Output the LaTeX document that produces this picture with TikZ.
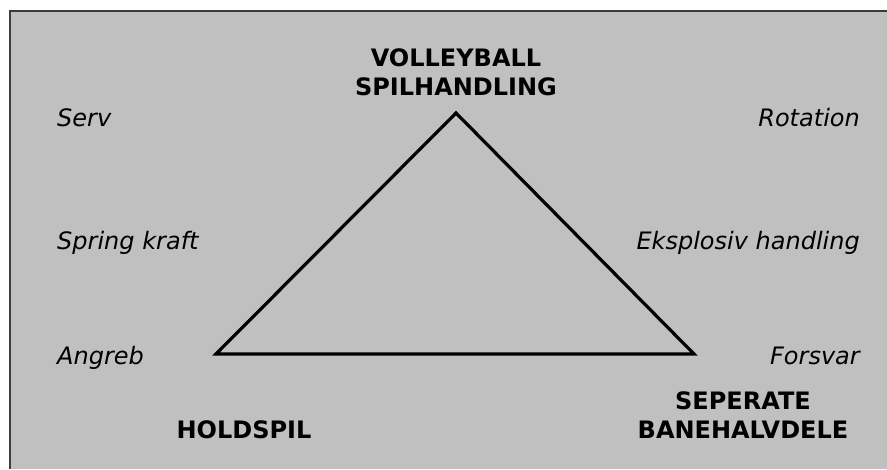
\documentclass[tikz,border=0pt]{standalone}
\usepackage{fontspec}
\setmainfont{DejaVu Sans}
\usetikzlibrary{positioning}
\definecolor{panelgray}{HTML}{C0C0C0}
\definecolor{framegray}{HTML}{3C3C3C}

\begin{document}
\begin{tikzpicture}[x=1pt, y=-1pt,
    side/.style={font=\fontsize{24}{29}\selectfont\itshape, inner sep=0pt},
    corner/.style={font=\fontsize{24}{29}\selectfont\bfseries, inner sep=0pt, align=center},
    edge/.style={line width=3.2pt, line join=miter}]
    \useasboundingbox (0,0) rectangle (887,469);

    % Background panel
    \fill[panelgray] (10,11) rectangle (887,469);
    \draw[framegray, line width=2.5pt] (10,469) -- (10,11) -- (887,11);

    % Corners of the triangle
    \coordinate (apex) at (456,113);
    \coordinate (left) at (216,354);
    \coordinate (right) at (694,354);

    % Corner titles (base is the last line)
    \node[corner, anchor=base] (volley) at (456,95) {VOLLEYBALL\\SPILHANDLING};
    \node[corner, anchor=base] (hold) at (244,438) {HOLDSPIL};
    \node[corner, anchor=base] (bane) at (743,438) {SEPERATE\\BANEHALVDELE};

    % Left side labels
    \node[side, anchor=base west] (serv) at (57,126) {Serv};
    \node[side, anchor=base west] (spring) at (57,249) {Spring kraft};
    \node[side, anchor=base west] (angreb) at (57,364) {Angreb};

    % Right side labels
    \node[side, anchor=base east] (rotation) at (860,126) {Rotation};
    \node[side, anchor=base east] (eksplosiv) at (860,249) {Eksplosiv handling};
    \node[side, anchor=base east] (forsvar) at (860,364) {Forsvar};

    % Draw the triangle
    \draw[edge] (apex) -- (right) -- (left) -- cycle;
\end{tikzpicture}
\end{document}
